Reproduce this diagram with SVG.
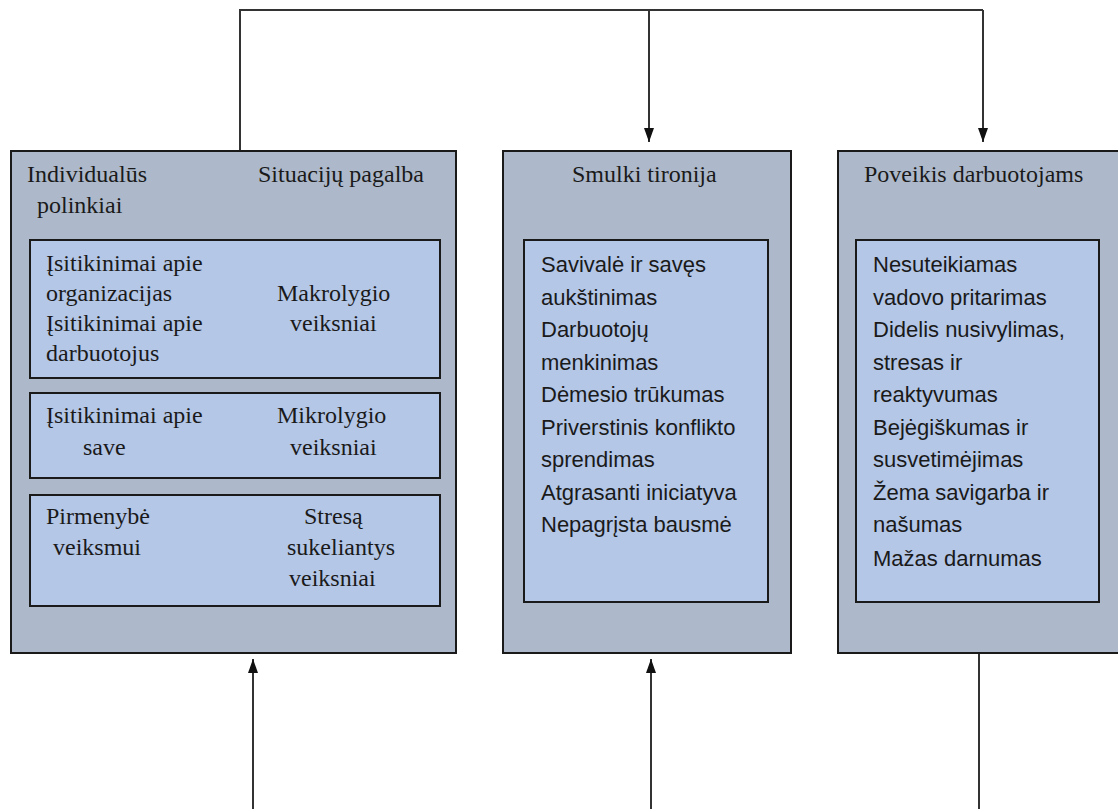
<svg xmlns="http://www.w3.org/2000/svg" width="1118" height="809" viewBox="0 0 1118 809">
<style>
.outer{fill:#adb9ca;stroke:#1a1a1a;stroke-width:2}
.inner{fill:#b4c7e7;stroke:#1a1a1a;stroke-width:2}
.serif{font-family:"Liberation Serif","Times New Roman",serif;font-size:24px;fill:#1a1a1a}
.sans{font-family:"Liberation Sans",Arial,sans-serif;font-size:22px;fill:#1a1a1a}
.conn{fill:none;stroke:#333;stroke-width:2}
</style>
<defs>
<marker id="arr" viewBox="0 0 14 10" refX="14" refY="5" markerWidth="14" markerHeight="10" markerUnits="userSpaceOnUse" orient="auto">
<path d="M0,0 L14,5 L0,10 z" fill="#111"/>
</marker>
</defs>
<rect width="1118" height="809" fill="#fff"/>
<g id="connectors">
<path class="conn" d="M240 151 V10 H983"/>
<path class="conn" d="M649 10 V142" marker-end="url(#arr)"/>
<path class="conn" d="M983 10 V142" marker-end="url(#arr)"/>
<path class="conn" d="M253 809 V659" marker-end="url(#arr)"/>
<path class="conn" d="M651 809 V659" marker-end="url(#arr)"/>
<path class="conn" d="M979 653 V809"/>
</g>
<g id="node-individual">
<rect class="outer" x="11" y="151" width="445" height="502"/>
<text class="serif" x="27" y="182">Individualūs</text>
<text class="serif" x="37" y="213">polinkiai</text>
<text class="serif" x="258" y="182">Situacijų pagalba</text>
<g id="node-macro">
<rect class="inner" x="30" y="240" width="410" height="138"/>
<text class="serif" x="46" y="271">Įsitikinimai apie</text>
<text class="serif" x="46" y="301">organizacijas</text>
<text class="serif" x="46" y="331">Įsitikinimai apie</text>
<text class="serif" x="46" y="361">darbuotojus</text>
<text class="serif" x="277" y="301">Makrolygio</text>
<text class="serif" x="290" y="331">veiksniai</text>
</g>
<g id="node-micro">
<rect class="inner" x="30" y="393" width="410" height="85"/>
<text class="serif" x="46" y="423">Įsitikinimai apie</text>
<text class="serif" x="83" y="455">save</text>
<text class="serif" x="277" y="423">Mikrolygio</text>
<text class="serif" x="290" y="455">veiksniai</text>
</g>
<g id="node-stress">
<rect class="inner" x="30" y="495" width="410" height="111"/>
<text class="serif" x="46" y="524">Pirmenybė</text>
<text class="serif" x="53" y="555">veiksmui</text>
<text class="serif" x="304" y="524">Stresą</text>
<text class="serif" x="287" y="555">sukeliantys</text>
<text class="serif" x="289" y="586">veiksniai</text>
</g>
</g>
<g id="node-tyranny">
<rect class="outer" x="503" y="151" width="288" height="502"/>
<text class="serif" x="572" y="182">Smulki tironija</text>
<rect class="inner" x="524" y="240" width="244" height="362"/>
<text class="sans" x="541" y="272">Savivalė ir savęs</text>
<text class="sans" x="541" y="304.5">aukštinimas</text>
<text class="sans" x="541" y="337">Darbuotojų</text>
<text class="sans" x="541" y="369.5">menkinimas</text>
<text class="sans" x="541" y="402">Dėmesio trūkumas</text>
<text class="sans" x="541" y="434.5">Priverstinis konflikto</text>
<text class="sans" x="541" y="467">sprendimas</text>
<text class="sans" x="541" y="499.5">Atgrasanti iniciatyva</text>
<text class="sans" x="541" y="532">Nepagrįsta bausmė</text>
</g>
<g id="node-effects">
<rect class="outer" x="838" y="151" width="290" height="502"/>
<text class="serif" x="864" y="182">Poveikis darbuotojams</text>
<rect class="inner" x="856" y="240" width="243" height="362"/>
<text class="sans" x="873" y="272">Nesuteikiamas</text>
<text class="sans" x="873" y="304.5">vadovo pritarimas</text>
<text class="sans" x="873" y="337">Didelis nusivylimas,</text>
<text class="sans" x="873" y="369.5">stresas ir</text>
<text class="sans" x="873" y="402">reaktyvumas</text>
<text class="sans" x="873" y="434.5">Bejėgiškumas ir</text>
<text class="sans" x="873" y="467">susvetimėjimas</text>
<text class="sans" x="873" y="499.5">Žema savigarba ir</text>
<text class="sans" x="873" y="532">našumas</text>
<text class="sans" x="873" y="566">Mažas darnumas</text>
</g>
</svg>
